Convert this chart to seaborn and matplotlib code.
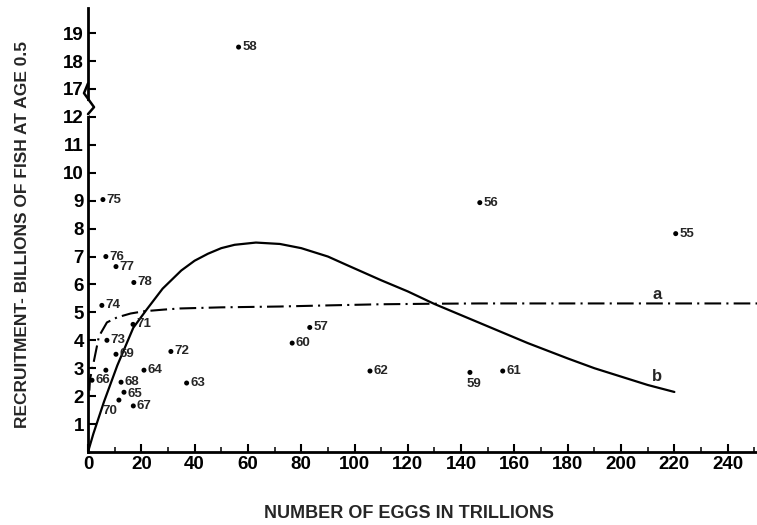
import numpy as np
import pandas as pd
import matplotlib
matplotlib.use("Agg")
import matplotlib.pyplot as plt
import matplotlib.transforms as mtrans
from matplotlib.ticker import FixedLocator, MultipleLocator
import seaborn as sns

# ---- data ----
years = ["55", "56", "57", "58", "59", "60", "61", "62", "63", "64", "65", "66",
         "67", "68", "69", "70", "71", "72", "73", "74", "75", "76", "77", "78", ""]
eggs = [220.5, 147.0, 83.2, 56.5, 143.3, 76.6, 155.6, 105.8, 37.0, 21.0, 13.5, 1.5,
        17.0, 12.4, 10.5, 11.6, 16.9, 31.1, 7.1, 5.2, 5.6, 6.7, 10.5, 17.2, 6.7]
recruits = [7.82, 8.93, 4.46, 18.5, 2.85, 3.90, 2.90, 2.90, 2.47, 2.93, 2.14, 2.57,
            1.65, 2.50, 3.50, 1.86, 4.57, 3.60, 4.00, 5.25, 9.04, 7.00, 6.64, 6.07, 2.93]

# curve a (dash-dot)
curve_a_x = [0.5, 0.75, 2.2, 4.1, 7.1, 10.9, 16.0, 21.0, 28.5, 34.5, 50.0, 72.0,
             90.0, 109.5, 130.0, 147.0, 180.0, 220.0, 251.0]
curve_a_y = [2.2, 2.6, 3.25, 4.14, 4.64, 4.82, 4.96, 5.04, 5.10, 5.14, 5.18, 5.21,
             5.25, 5.29, 5.31, 5.32, 5.32, 5.32, 5.32]
# curve b (solid)
curve_b_x = [0, 2, 6, 11, 17, 22, 28, 35, 40, 45, 50, 55, 63, 72, 80, 85, 90, 97,
             110, 120, 130, 140, 150, 160, 165, 180, 190, 200, 210, 220]
curve_b_y = [0, 0.65, 1.8, 3.1, 4.45, 5.1, 5.85, 6.5, 6.85, 7.1, 7.3, 7.42, 7.5, 7.45,
             7.3, 7.15, 7.0, 6.7, 6.15, 5.75, 5.3, 4.9, 4.5, 4.1, 3.9, 3.35, 3.0, 2.7,
             2.4, 2.15]

x_ticks = list(range(0, 241, 20))
y_ticks = [1, 2, 3, 4, 5, 6, 7, 8, 9, 10, 11, 12, 17, 18, 19]

sns.set_style("ticks")
plt.rcParams["font.family"] = ["Liberation Sans", "DejaVu Sans"]
plt.rcParams["font.weight"] = "bold"

fig = plt.figure(figsize=(7.57, 5.25), dpi=100)
ax = fig.add_axes([88 / 757, 1 - 452 / 525, 669 / 757, 444 / 525])

# broken y-axis: 12.5 .. 16.5 collapsed
def fwd(y):
    y = np.asarray(y, dtype=float)
    return np.where(y <= 12.5, y, np.where(y >= 16.5, y - 4.0, 12.5))

def inv(t):
    t = np.asarray(t, dtype=float)
    return np.where(t <= 12.5, t, t + 4.0)

ax.set_yscale("function", functions=(fwd, inv))

pts = pd.DataFrame({"eggs": eggs, "recruits": recruits, "year": years})
sns.scatterplot(data=pts, x="eggs", y="recruits", ax=ax, color="black", s=13,
                edgecolor="none", zorder=3)

ca = pd.DataFrame({"x": curve_a_x, "y": curve_a_y})
cb = pd.DataFrame({"x": curve_b_x, "y": curve_b_y})
sns.lineplot(data=ca, x="x", y="y", ax=ax, color="black", lw=1.5, sort=False,
             estimator=None, dashes=False)
ax.lines[-1].set_dashes([8, 2.5, 1, 2.5])
sns.lineplot(data=cb, x="x", y="y", ax=ax, color="black", lw=1.6, sort=False,
             estimator=None)

for xv, yv, lab in zip(eggs, recruits, years):
    if not lab:
        continue
    if lab == "70":
        off, ha, va = (-1, -3.5), "right", "top"
    elif lab == "59":
        off, ha, va = (3, -4), "center", "top"
    elif lab == "65":
        off, ha, va = (2.5, -1), "left", "center"
    else:
        off, ha, va = (2.5, 0), "left", "center"
    ax.annotate(lab, (xv, yv), xytext=off, textcoords="offset points",
                ha=ha, va=va, fontsize=9.5, fontweight="bold")

ax.text(213.4, 5.64, "a", fontsize=12, fontweight="bold", ha="center", va="center")
ax.text(213.4, 2.71, "b", fontsize=12, fontweight="bold", ha="center", va="center")

ax.set_xlim(0, 251)
ax.set_ylim(0, 19.9)
ax.xaxis.set_major_locator(FixedLocator(x_ticks))
ax.xaxis.set_minor_locator(MultipleLocator(10))
ax.yaxis.set_major_locator(FixedLocator(y_ticks))
ax.yaxis.set_minor_locator(FixedLocator([]))
ax.set_yticklabels([str(v) for v in y_ticks])
ax.set_xticklabels([str(v) for v in x_ticks])

sns.despine(ax=ax)
for s in ["left", "bottom"]:
    ax.spines[s].set_linewidth(2.0)
    ax.spines[s].set_color("black")
ax.tick_params(axis="both", which="major", direction="in", length=6, width=1.5,
               labelsize=13.5, colors="black", pad=3)
ax.tick_params(axis="x", which="minor", direction="in", length=3.5, width=1.3)
for lbl in ax.get_xticklabels() + ax.get_yticklabels():
    lbl.set_fontweight("bold")

# zigzag break marker on the y axis
trans = mtrans.blended_transform_factory(ax.transAxes, ax.transData)
zx = [0, -0.006, 0.009, 0]
zy = [13.2, 12.85, 12.35, 12.1]
ax.plot([0, 0], [12.1, 13.2], color="white", lw=3, transform=trans, clip_on=False, zorder=4)
ax.plot(zx, [inv(v) for v in zy], color="black", lw=1.8, transform=trans,
        clip_on=False, zorder=5)

ax.set_xlabel("NUMBER OF EGGS IN TRILLIONS", fontsize=13, fontweight="bold")
ax.set_ylabel("RECRUITMENT- BILLIONS OF FISH AT AGE 0.5", fontsize=12.5, fontweight="bold")
ax.xaxis.set_label_coords(0.48, -0.12)
ax.yaxis.set_label_coords(-0.087, 0.49)

fig.savefig("out.png", dpi=100)
